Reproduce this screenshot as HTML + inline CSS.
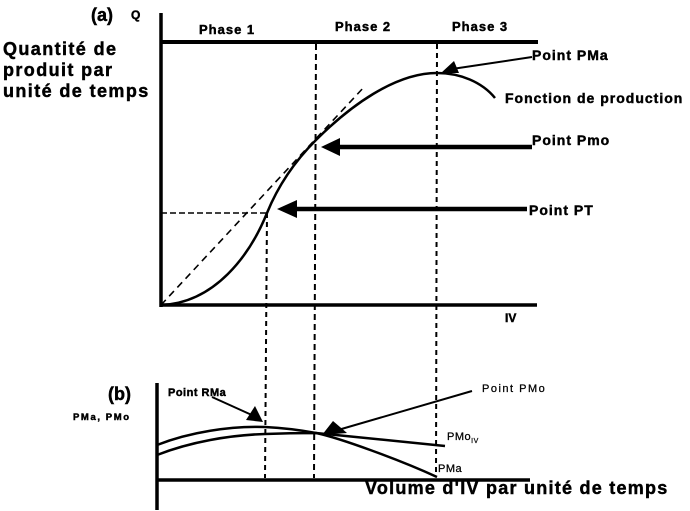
<!DOCTYPE html>
<html>
<head>
<meta charset="utf-8">
<style>
  html, body { margin: 0; padding: 0; background: #fff; }
  svg { display: block; }
  text { font-family: "Liberation Sans", Arial, sans-serif; fill: #000; }
  .b { font-weight: bold; stroke: #000; stroke-width: 0.45; }
  .r { stroke: #000; stroke-width: 0.25; }
</style>
</head>
<body>
<svg width="690" height="511" viewBox="0 0 690 511" xmlns="http://www.w3.org/2000/svg">
  <rect x="0" y="0" width="690" height="511" fill="#fff"/>

  <!-- ===== Chart (a) ===== -->
  <text x="91" y="21" class="b" font-size="18">(a)</text>
  <text x="131" y="19" class="b" font-size="12">Q</text>

  <text x="3" y="55" class="b" font-size="18" letter-spacing="1.4">Quantité de</text>
  <text x="3" y="76" class="b" font-size="18" letter-spacing="1.4">produit par</text>
  <text x="3" y="97" class="b" font-size="18" letter-spacing="1.4">unité de temps</text>

  <text x="199" y="34" class="b" font-size="13" letter-spacing="1">Phase 1</text>
  <text x="335" y="31" class="b" font-size="13" letter-spacing="1">Phase 2</text>
  <text x="452" y="31" class="b" font-size="13" letter-spacing="1">Phase 3</text>

  <!-- axes -->
  <line x1="161" y1="13" x2="161" y2="307" stroke="#000" stroke-width="3.5"/>
  <line x1="161" y1="42" x2="538" y2="42" stroke="#000" stroke-width="4"/>
  <line x1="160" y1="305" x2="537" y2="305" stroke="#000" stroke-width="3.5"/>
  <text x="505" y="322" class="b" font-size="12">IV</text>

  <!-- dashed verticals -->
  <line x1="267" y1="213" x2="265" y2="478" stroke="#000" stroke-width="2" stroke-dasharray="5,4"/>
  <line x1="316" y1="44" x2="314" y2="478" stroke="#000" stroke-width="2" stroke-dasharray="6,4"/>
  <line x1="437" y1="44" x2="436" y2="476" stroke="#000" stroke-width="2" stroke-dasharray="5,4"/>

  <!-- horizontal dashed at PT -->
  <line x1="161" y1="213" x2="267" y2="213" stroke="#000" stroke-width="1.5" stroke-dasharray="6,3"/>

  <!-- tangent dashed -->
  <line x1="161" y1="305" x2="365" y2="86" stroke="#000" stroke-width="1.6" stroke-dasharray="7,5"/>

  <!-- production function -->
  <path d="M161,305 C215,303 250,255 267,213 C280,181 298,158 316,140 C350,106 395,73 437,73 C460,73 482,82 495,98"
        fill="none" stroke="#000" stroke-width="2.5"/>

  <!-- Point PMa arrow -->
  <line x1="532" y1="57" x2="452" y2="69" stroke="#000" stroke-width="2"/>
  <polygon points="441,73 454,61 459,73" fill="#000"/>
  <text x="532" y="60" class="b" font-size="14" letter-spacing="1">Point PMa</text>

  <text x="505" y="103" class="b" font-size="14" letter-spacing="1">Fonction de production</text>

  <!-- Point Pmo arrow -->
  <line x1="336" y1="147" x2="532" y2="147" stroke="#000" stroke-width="4.5"/>
  <polygon points="321,147 340,138 340,156" fill="#000"/>
  <text x="532" y="145" class="b" font-size="14" letter-spacing="1">Point Pmo</text>

  <!-- Point PT arrow -->
  <line x1="294" y1="209" x2="527" y2="209" stroke="#000" stroke-width="4.5"/>
  <polygon points="277,209 297,200 297,218" fill="#000"/>
  <text x="529" y="215" class="b" font-size="14" letter-spacing="1">Point PT</text>

  <!-- ===== Chart (b) ===== -->
  <text x="108" y="400" class="b" font-size="18">(b)</text>
  <text x="73" y="420" class="b" font-size="9.5" letter-spacing="1.6">PMa, PMo</text>

  <line x1="157" y1="383" x2="157" y2="510" stroke="#000" stroke-width="3.5"/>
  <line x1="156" y1="480" x2="530" y2="480" stroke="#000" stroke-width="3.5"/>

  <!-- PMa curve -->
  <path d="M157,445 C190,432 230,426 265,427 C285,428 300,430 316,433 C340,438 400,460 437,477"
        fill="none" stroke="#000" stroke-width="2.5"/>
  <!-- PMo curve -->
  <path d="M157,455 C190,442 230,435 265,434 C290,433 305,433 316,433 L445,446"
        fill="none" stroke="#000" stroke-width="2.5"/>

  <!-- Point RMa arrow -->
  <text x="168" y="396" class="b" font-size="11" letter-spacing="0.5">Point RMa</text>
  <line x1="212" y1="397" x2="254" y2="416" stroke="#000" stroke-width="2"/>
  <polygon points="263,422 246,420 255,406" fill="#000"/>

  <!-- Point PMo arrow -->
  <text x="482" y="392" class="r" font-size="11" letter-spacing="1.5">Point PMo</text>
  <line x1="472" y1="391" x2="338" y2="430" stroke="#000" stroke-width="2"/>
  <polygon points="322,435 333,421 347,433" fill="#000"/>

  <text x="447" y="440" class="r" font-size="11" letter-spacing="0.5">PMo<tspan font-size="7" dy="3">IV</tspan></text>
  <text x="438" y="472" class="r" font-size="11" letter-spacing="0.5">PMa</text>

  <text x="365" y="494" class="b" font-size="18" letter-spacing="1.25">Volume d'IV par unité de temps</text>
</svg>
</body>
</html>
